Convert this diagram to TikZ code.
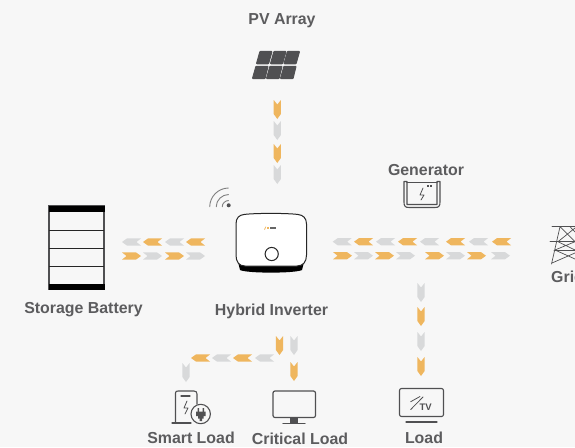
\documentclass[tikz,border=0pt]{standalone}
\usepackage{fontspec}
\setmainfont{Liberation Sans}
\definecolor{bgc}{HTML}{F7F7F7}
\definecolor{org}{HTML}{EFB65E}
\definecolor{gry}{HTML}{D8D9DA}
\definecolor{txt}{HTML}{5C5C5E}
\definecolor{ico}{HTML}{505052}
\tikzset{
  lbl/.style={font=\bfseries\fontsize{15.9}{17}\selectfont,text=txt,inner sep=0pt},
  icon/.style={draw=ico,line width=1.1pt,line join=round,line cap=round},
  thin icon/.style={draw=ico,line width=.8pt,line join=round,line cap=round},
  cell/.style={fill=ico,draw=ico,line width=.9pt,line join=round},
}
% chevron, origin at its start, pointing along +x in its own frame
\newcommand{\chev}[4]{% colour, x, y, rotation
  \fill[#1,shift={(#2,#3)},rotate=#4]
    (0,-3.6)--(14,-3.6)--(19,0)--(14,3.6)--(0,3.6)--(4.5,0)--cycle;}
\begin{document}
\begin{tikzpicture}[x=1pt,y=-1pt]
\path[fill=bgc] (0,0) rectangle (575,447);
\useasboundingbox (0,0) rectangle (575,447);
\clip (0,0) rectangle (575,447);
% labels
\node[lbl] (pv) at (282,20.5) {PV Array};
\node[lbl] (gen) at (426,170) {Generator};
\node[lbl] (sb) at (83.5,309.5) {Storage Battery};
\node[lbl] (hi) at (271.5,311) {Hybrid Inverter};
\node[lbl] (sl) at (191,437.5) {Smart Load};
\node[lbl] (cl) at (300,438.5) {Critical Load};
\node[lbl] (ld) at (424,437.5) {Load};
\node[lbl,anchor=west] (gr) at (551,277) {Grid};
% PV panel
\foreach \a/\b in {259.5/256,273.5/270,287/283.5}
  \fill[cell,rounded corners=.6pt] (\a+.4,51.4)--(\a+12.6,51.4)--(\b+12.6,63.8)--(\b+.4,63.8)--cycle;
\foreach \a/\b in {255.5/252,269.5/266,283.5/280}
  \fill[cell,rounded corners=.6pt] (\a+.4,66.2)--(\a+12.6,66.2)--(\b+13.1,78.6)--(\b+.4,78.6)--cycle;
% battery
\draw[draw=ico,line width=1.2pt] (49,206) rectangle (104,289);
\fill[black] (48.5,205.5) rectangle (104.5,212);
\fill[black] (48.5,284) rectangle (104.5,289.5);
\foreach \y in {230.5,248.7,266.7}
  \draw[line width=1pt,black!85] (49,\y)--(104,\y);
% inverter
\fill[black] (238,262)--(304,262)--(302,270) .. controls (295,273.5) and (247,273.5) .. (240,270)--cycle;
\draw[fill=white,draw=black!85,line width=1pt]
  (244,214.5) .. controls (255,213) and (287,213) .. (298,214.5)
  .. controls (303,215) and (306.5,218) .. (306.5,224)
  -- (306.5,255) .. controls (306.5,262) and (303,266) .. (297,266)
  -- (245,266) .. controls (239,266) and (236,262) .. (236,255)
  -- (236,224) .. controls (236,218) and (239,215) .. (244,214.5) -- cycle;
\draw[line width=1pt,draw=black!85] (271.7,254) circle (6.6);
\fill[org] (264,229.5)--(265.5,226.5)--(266.2,226.5)--(265,229.5)--cycle;
\fill[org] (266.5,227.2) rectangle (269,228.6);
\fill[black!60] (270,226.8) rectangle (276,228.8);
% wifi
\fill[ico] (228.7,205.3) circle (2);
\foreach \r in {6.5,12.5,19}
  \draw[line width=.9pt,draw=gray] (228.7-\r,207) arc[start angle=180,end angle=90,x radius=\r,y radius=-\r];
% generator
\draw[icon] (404,181.5)--(404,202) .. controls (404,206) and (405,207.5) .. (409,207.5)
  --(435,207.5) .. controls (439,207.5) and (440,206) .. (440,202)--(440,181.5)
  --(437,181.5)--(437,204.5)--(407,204.5)--(407,181.5)--cycle;
\draw[icon] (407,182.5)--(437,182.5);
\draw[thin icon] (423,188)--(420,195)--(424,195)--(421,200);
\fill[ico] (427,185.4) rectangle (428.8,187.2);
\fill[ico] (430,185.4) rectangle (431.8,187.2);
% grid tower
\draw[thin icon,line width=.7pt] (552,226.7)--(575,226.7) (550,241.7)--(575,241.7) (554,250)--(575,250);
\draw[thin icon,line width=.7pt] (560,226.7)--(551.5,264) (570,226.7)--(575,232) (560,226.7)--(575,241.7)
  (575,228)--(558,241.7) (558,241.7)--(575,250) (575,241.7)--(555,250) (555,250)--(575,259) (575,253)--(552,263);
% chevrons
\foreach \c/\y in {org/100,gry/121,org/144,gry/165} {\chev{\c}{277.3}{\y}{-90}}
\foreach \c/\x in {gry/141,org/162,gry/184,org/205} {\chev{\c}{\x}{242}{180}}
\foreach \c/\x in {org/122,gry/143,org/165,gry/186} {\chev{\c}{\x}{256}{0}}
\foreach \c/\x in {gry/351.7,org/373,gry/395,org/417,gry/439,org/465,gry/488,org/511} {\chev{\c}{\x}{241.7}{180}}
\foreach \c/\x in {org/333,gry/354,org/375,gry/396,org/425,gry/446,org/467,gry/491} {\chev{\c}{\x}{255.7}{0}}
\foreach \c/\y in {gry/283,org/307,gry/332,org/357} {\chev{\c}{421}{\y}{-90}}
\chev{org}{279.5}{336}{-90}
\chev{gry}{294}{336}{-90}
\chev{org}{294}{362}{-90}
\foreach \c/\x in {gry/274,org/252,gry/231,org/210} {\chev{\c}{\x}{358}{180}}
\chev{gry}{186}{363}{-90}
% smart load
\draw[icon] (175.5,422)--(175.5,393) .. controls (175.5,391.5) and (176.5,391) .. (178,391)--(194,391) .. controls (196,391) and (197,392) .. (197,394)--(197,404);
\draw[icon] (172,423)--(191,423);
\draw[icon] (181,396)--(190,396);
\draw[thin icon] (187,401)--(184,408)--(188,408)--(185,414);
\draw[icon,fill=bgc] (200.7,414) circle (9.7);
\fill[ico] (196,411.5) rectangle (205.5,416) (198,416) rectangle (203.5,418.5);
\fill[ico] (199.5,418) rectangle (202,421) (197.5,408) rectangle (199,412) (202.5,408) rectangle (204,412);
% critical load monitor
\draw[icon,line width=1.2pt,rounded corners=2pt] (273,391) rectangle (315.5,417.5);
\fill[ico] (290,418) rectangle (298,423);
\draw[icon] (283,423.3)--(305,423.3);
% TV load
\draw[icon,rounded corners=2pt] (399.5,388.5) rectangle (443.5,416.5);
\draw[thin icon] (410.7,401.7)--(420,396.5) (410.7,409.5)--(423,397);
\node[font=\bfseries\fontsize{9.5}{10}\selectfont,text=ico,inner sep=0pt] (tv) at (425.7,407.7) {TV};
\draw[icon] (406,422)--(437,422);
\end{tikzpicture}
\end{document}
